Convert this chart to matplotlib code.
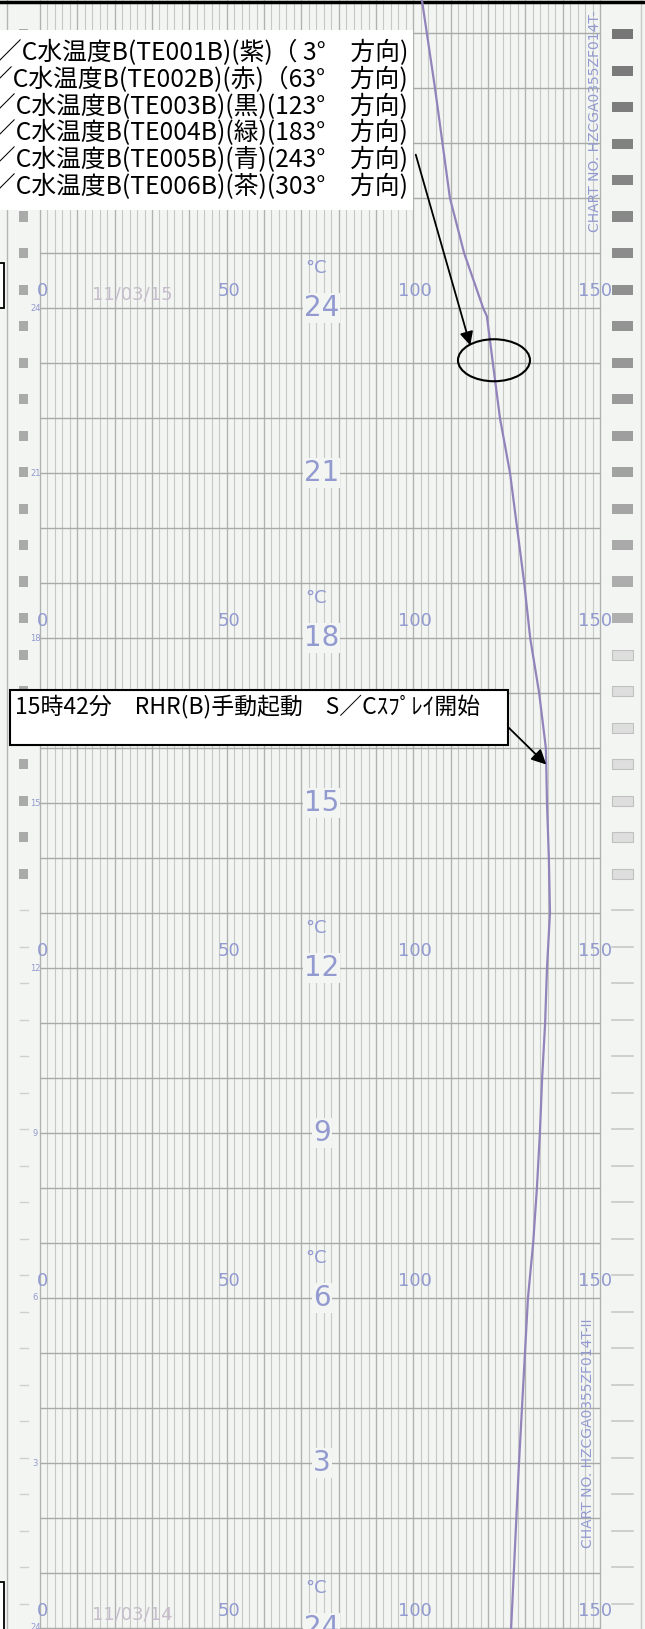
import numpy as np
import matplotlib.pyplot as plt
from matplotlib.patches import Rectangle, Ellipse

plt.rcParams['font.family'] = ['Noto Sans CJK JP', 'DejaVu Sans']

# recorder trace (hours since 11/03/14 24:00, deg C)
hours = [29.6, 28.0, 26.0, 25.0, 24.0, 23.85, 23.0, 22.0, 21.0, 20.0, 19.0, 18.0,
         17.0, 16.0, 15.7, 15.0, 14.0, 13.0, 12.0, 11.0, 10.0, 9.0, 8.0, 7.0,
         6.0, 5.0, 3.0, 0.0]
temps = [102.3, 105.8, 109.8, 113.6, 118.7, 119.7, 121.3, 123.2, 125.9, 127.8, 129.7, 131.3,
         133.7, 135.5, 135.6, 135.8, 136.3, 136.6, 135.8, 135.3, 134.5, 133.9, 133.1, 132.1,
         130.7, 129.9, 128.3, 126.2]

hour_pos = [0, 3, 6, 9, 12, 15, 18, 21, 24]
hour_labels = ['24', '3', '6', '9', '12', '15', '18', '21', '24']
scale_rows = [0, 6, 12, 18, 24]
scale_ticks = [0, 50, 100, 150]
scale_labels = ['0', '50', '100', '150']
date_rows = [0, 24]
date_labels = ['11/03/14', '11/03/15']

legend_lines = [
    '／C水温度B(TE001B)(紫)（ 3°　方向)',
    '／C水温度B(TE002B)(赤)（63°　方向)',
    '／C水温度B(TE003B)(黒)(123°　方向)',
    '／C水温度B(TE004B)(緑)(183°　方向)',
    '／C水温度B(TE005B)(青)(243°　方向)',
    '／C水温度B(TE006B)(茶)(303°　方向)',
]
event_text = '15時42分　RHR(B)手動起動　S／Cｽﾌﾟﾚｲ開始'
event_hour = 15.7
circle_hour = 23.0

W, H = 645, 1629
PX0, PXC = 40, 560 / 150.0
PY0, PYH = 1628, 55.0


def tx(px):
    return (px - PX0) / PXC


def ty(py):
    return (PY0 - py) / PYH


paper = '#f3f5f2'
ink = '#929ad0'

fig = plt.figure(figsize=(W / 100, H / 100), dpi=100, facecolor=paper)
ax = fig.add_axes([0, 0, 1, 1])
ax.set_facecolor(paper)
ax.set_xlim(tx(0), tx(W))
ax.set_ylim(ty(H), ty(0))
ax.axis('off')

# chart grid
ymin, ymax = ty(H), ty(0)
minor = np.arange(0, 151, 2)
ax.vlines(minor, ymin, ymax, color='#c6c8c6', lw=0.8, zorder=1)
ax.vlines(np.arange(0, 151, 10), ymin, ymax, color='#b0b2b0', lw=0.9, zorder=1)
ax.hlines(np.arange(0, 30), 0, 150, color='#a8aaa8', lw=1.0, zorder=1)

# paper edges
ax.axvline(tx(7), color='#b5b5b5', lw=1.0)
ax.axvline(tx(641), color='#c8c8c8', lw=1.0)
ax.axhline(ty(1.5), color='black', lw=2.5)

# feed marks on both margins
for k in range(45):
    yc = 34 + 36.5 * k
    if yc > H + 10:
        break
    if yc < 640:
        shade = 0.45 + 0.25 * yc / 640
        ax.add_patch(Rectangle((tx(612), ty(yc + 5)), 21 / PXC, 10 / PYH,
                               color=str(shade), lw=0, zorder=2))
    elif yc < 900:
        ax.add_patch(Rectangle((tx(612), ty(yc + 5)), 21 / PXC, 10 / PYH,
                               facecolor='#dedede', edgecolor='#c0c0c0', lw=0.8, zorder=2))
    else:
        ax.plot([tx(612), tx(633)], [ty(yc), ty(yc)], color='#c8c8c8', lw=1.2, zorder=2)
    if yc < 880:
        ax.add_patch(Rectangle((tx(19), ty(yc + 5)), 9 / PXC, 10 / PYH,
                               color='#a9aaa9', lw=0, zorder=2))
    else:
        ax.plot([tx(20), tx(28)], [ty(yc), ty(yc)], color='#cfcfcf', lw=1.0, zorder=2)

# printed scale text
for h, lab in zip(hour_pos, hour_labels):
    ax.text(75.5, h, lab, fontsize=20, color=ink, ha='center', va='center',
            family='DejaVu Sans', zorder=3,
            bbox=dict(facecolor=paper, edgecolor='none', pad=0.5))
    ax.text(-1.3, h, lab, fontsize=6, color=ink, ha='center', va='center',
            family='DejaVu Sans', zorder=3)

nudge = [0.8, 0.5, 0.5, -1.3]
for h in scale_rows:
    for v, lab, dv in zip(scale_ticks, scale_labels, nudge):
        ax.text(v + dv, h + 0.31, lab, fontsize=13, color=ink, ha='center', va='center',
                family='DejaVu Sans', zorder=3)
    ax.text(74, h + 0.73, '°C', fontsize=13, color=ink, ha='center', va='center',
            family='DejaVu Sans', zorder=3)

for h, lab in zip(date_rows, date_labels):
    ax.text(24.6, h + 0.24, lab, fontsize=13, color='#c6bccb', ha='center', va='center',
            family='DejaVu Sans', zorder=3)

ax.text(tx(595), ty(121), 'CHART NO. HZCGA0355ZF014T-', rotation=90, fontsize=10,
        color=ink, ha='center', va='center', family='DejaVu Sans', zorder=3)
ax.text(tx(588), ty(1433), 'CHART NO. HZCGA0355ZF014T-II', rotation=90, fontsize=10,
        color=ink, ha='center', va='center', family='DejaVu Sans', zorder=3)

# recorded trace
ax.plot(temps, hours, color='#9283bb', lw=1.6, zorder=4)

# annotations
ax.add_patch(Rectangle((tx(-5), ty(210)), 418 / PXC, 180 / PYH,
                       facecolor='white', edgecolor='none', zorder=5))
for i, line in enumerate(legend_lines):
    ax.text(tx(408), ty(53 + 26.8 * i), line, fontsize=17.8, color='black',
            ha='right', va='center', zorder=6)

hr = hours[::-1]
tr = temps[::-1]
cx = np.interp(circle_hour, hr, tr)
ax.add_patch(Ellipse((cx + 0.3, circle_hour + 0.05), 72 / PXC, 42 / PYH,
                     facecolor='none', edgecolor='black', lw=1.5, zorder=6))
ax.annotate('', xy=(tx(471), ty(348)), xytext=(tx(415), ty(152)),
            arrowprops=dict(arrowstyle='-|>', color='black', lw=1.3, mutation_scale=20),
            zorder=6)

ax.add_patch(Rectangle((tx(10), ty(745)), 498 / PXC, 55 / PYH,
                       facecolor='white', edgecolor='black', lw=1.5, zorder=5))
ax.text(tx(15), ty(706), event_text, fontsize=16.5, color='black',
        ha='left', va='center', zorder=6)
ex = np.interp(event_hour, hr, tr)
ax.annotate('', xy=(ex, event_hour), xytext=(tx(508), ty(727)),
            arrowprops=dict(arrowstyle='-|>', color='black', lw=1.3, mutation_scale=22,
                            shrinkA=0, shrinkB=0),
            zorder=6)

# cut-off boxes at the left edge
for top, bot in [(263, 308), (1582, 1650)]:
    ax.add_patch(Rectangle((tx(-30), ty(bot)), 34 / PXC, (bot - top) / PYH,
                           facecolor='white', edgecolor='black', lw=1.3, zorder=5))

fig.savefig('out.png', dpi=100, facecolor=paper)
